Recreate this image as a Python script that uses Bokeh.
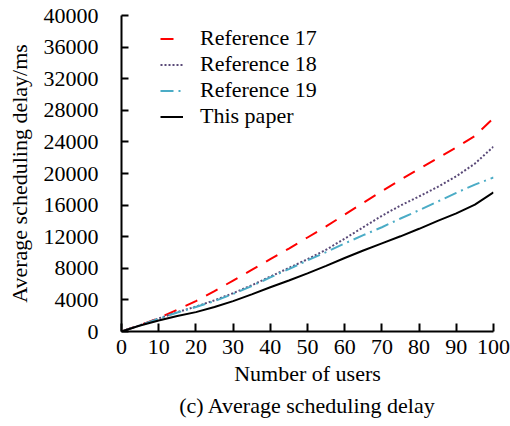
from bokeh.plotting import figure
from bokeh.models import Legend, LegendItem, FixedTicker, Title
from bokeh.embed import file_html
from bokeh.resources import INLINE

users = [0, 5, 10, 15, 20, 25, 30, 35, 40, 45, 50, 55, 60, 65, 70, 75, 80, 85, 90, 95, 100]
ref17 = [0, 800, 1700, 2750, 3850, 5100, 6450, 7800, 9150, 10500, 11900,
         13300, 14800, 16300, 17750, 19200, 20600, 21950, 23300, 24750, 27000]
ref18 = [0, 800, 1650, 2450, 3150, 3950, 4850, 5850, 6950, 8050, 9150,
         10350, 11750, 13200, 14650, 15950, 17100, 18300, 19650, 21250, 23400]
ref19 = [0, 780, 1600, 2400, 3100, 3850, 4750, 5750, 6850, 7900, 9000,
         10050, 11150, 12200, 13200, 14300, 15350, 16450, 17550, 18600, 19500]
this_paper = [0, 750, 1400, 1950, 2450, 3100, 3850, 4700, 5600, 6450, 7350,
              8300, 9300, 10250, 11150, 12050, 13000, 14000, 14950, 16050, 17600]

series_names = ["Reference 17", "Reference 18", "Reference 19", "This paper"]
y_ticks = list(range(0, 40001, 4000))
x_ticks = list(range(0, 101, 10))

FONT = "Liberation Serif, Times New Roman, Times, DejaVu Serif, serif"
FS = "22px"

p = figure(width=510, height=426, x_range=(0, 100), y_range=(0, 40000),
           output_backend="svg", toolbar_location=None,
           min_border_left=121, min_border_right=17, min_border_top=15, min_border_bottom=95)
p.xgrid.visible = False
p.ygrid.visible = False
p.outline_line_color = None

styles = [
    dict(color="#FF0000", dash="13 10"),
    dict(color="#5A4A78", dash="2 2"),
    dict(color="#4BACC6", dash="13 5 2 5"),
    dict(color="#000000", dash="solid"),
]
data = [ref17, ref18, ref19, this_paper]

items = []
for name, ys, st in zip(series_names, data, styles):
    r = p.line(users, ys, line_color=st["color"], line_width=2, line_dash=st["dash"])
    items.append(LegendItem(label=name, renderers=[r]))

legend = Legend(items=items, location=(39, 202), padding=0, margin=0, spacing=0,
                label_height=23, glyph_height=23, glyph_width=23, label_standoff=17,
                label_text_font=FONT, label_text_font_size=FS, label_text_color="#000000",
                border_line_alpha=0, background_fill_alpha=0)
p.add_layout(legend, "center")

for ax in (p.xaxis[0], p.yaxis[0]):
    ax.axis_line_width = 2
    ax.axis_line_color = "#000000"
    ax.major_tick_line_width = 2
    ax.major_tick_line_color = "#000000"
    ax.minor_tick_line_color = None
    ax.major_tick_out = 0
    ax.major_label_text_font = FONT
    ax.major_label_text_font_size = FS
    ax.major_label_text_color = "#000000"
    ax.axis_label_text_font = FONT
    ax.axis_label_text_font_size = FS
    ax.axis_label_text_font_style = "normal"
    ax.axis_label_text_color = "#000000"

p.xaxis.ticker = FixedTicker(ticks=x_ticks)
p.yaxis.ticker = FixedTicker(ticks=y_ticks)
p.xaxis.major_tick_in = 8
p.yaxis.major_tick_in = 7
p.xaxis.major_label_standoff = 8
p.yaxis.major_label_standoff = 23
p.xaxis.axis_label = "Number of users"
p.yaxis.axis_label = "Average scheduling delay/ms"
p.xaxis.axis_label_standoff = 4
p.yaxis.axis_label_standoff = 9

caption = Title(text="(c) Average scheduling delay", align="center",
                text_font=FONT, text_font_size=FS, text_font_style="normal",
                text_color="#000000", standoff=5, offset=0)
p.add_layout(caption, "below")

open("out.html", "w").write(file_html(p, INLINE))
